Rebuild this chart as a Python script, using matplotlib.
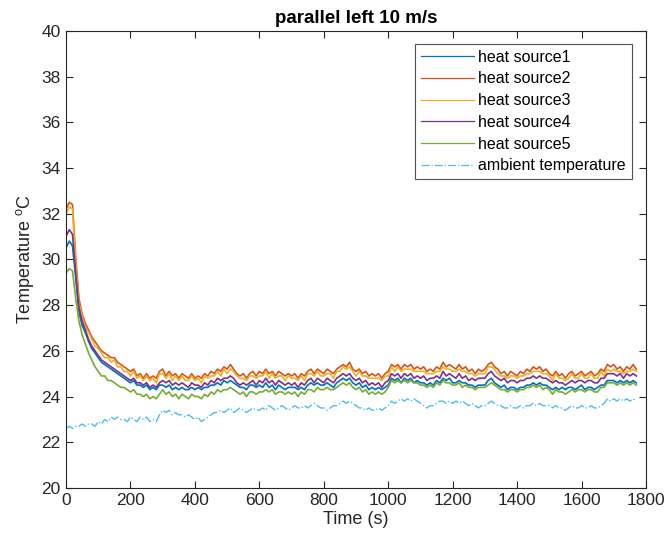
import numpy as np
import matplotlib
matplotlib.use("Agg")
import matplotlib.pyplot as plt

plt.rcParams['font.family'] = ['Liberation Sans', 'DejaVu Sans']
plt.rcParams['mathtext.fontset'] = 'custom'
plt.rcParams['mathtext.rm'] = 'Liberation Sans'
plt.rcParams['mathtext.it'] = 'Liberation Sans'

# time axis, one reading every 10 s
time_s = np.arange(0, 1780, 10)

heat_source1 = [
    30.5, 30.8, 30.6, 29.2, 27.7, 27.1, 26.8, 26.4, 26.1, 25.9,
    25.7, 25.5, 25.4, 25.3, 25.2, 25.1, 25.0, 24.9, 24.8, 24.7,
    24.6, 24.7, 24.5, 24.5, 24.4, 24.5, 24.3, 24.4, 24.3, 24.5,
    24.5, 24.4, 24.5, 24.3, 24.4, 24.3, 24.4, 24.3, 24.3, 24.4,
    24.3, 24.4, 24.3, 24.4, 24.4, 24.5, 24.5, 24.6, 24.5, 24.7,
    24.6, 24.7, 24.6, 24.5, 24.4, 24.4, 24.3, 24.5, 24.5, 24.4,
    24.5, 24.4, 24.6, 24.4, 24.5, 24.3, 24.5, 24.4, 24.3, 24.4,
    24.4, 24.4, 24.3, 24.4, 24.3, 24.5, 24.6, 24.5, 24.6, 24.5,
    24.5, 24.6, 24.5, 24.4, 24.6, 24.7, 24.8, 24.7, 24.8, 24.6,
    24.5, 24.6, 24.4, 24.5, 24.3, 24.4, 24.3, 24.4, 24.3, 24.4,
    24.5, 24.8, 24.7, 24.8, 24.6, 24.8, 24.7, 24.8, 24.6, 24.7,
    24.6, 24.6, 24.5, 24.6, 24.5, 24.7, 24.6, 24.8, 24.7, 24.8,
    24.6, 24.6, 24.7, 24.6, 24.6, 24.5, 24.5, 24.4, 24.5, 24.5,
    24.5, 24.7, 24.8, 24.6, 24.5, 24.4, 24.5, 24.3, 24.4, 24.4,
    24.3, 24.4, 24.4, 24.5, 24.5, 24.6, 24.5, 24.6, 24.5, 24.5,
    24.4, 24.3, 24.4, 24.3, 24.4, 24.3, 24.4, 24.4, 24.3, 24.4,
    24.5, 24.3, 24.4, 24.4, 24.3, 24.4, 24.5, 24.5, 24.7, 24.7,
    24.7, 24.6, 24.7, 24.6, 24.7, 24.6, 24.7, 24.6]

heat_source2 = [
    32.2, 32.5, 32.4, 30.1, 28.3, 27.6, 27.2, 26.9, 26.6, 26.4,
    26.2, 26.0, 25.9, 25.8, 25.7, 25.7, 25.5, 25.4, 25.3, 25.2,
    25.1, 25.2, 24.9, 25.0, 24.8, 25.0, 24.8, 24.9, 24.8, 25.1,
    25.2, 24.9, 25.1, 24.9, 25.0, 24.8, 25.0, 24.9, 24.8, 25.0,
    24.8, 24.9, 24.8, 25.0, 24.9, 25.1, 25.0, 25.2, 25.1, 25.3,
    25.2, 25.4, 25.2, 25.0, 24.9, 25.0, 24.8, 25.0, 25.1, 24.9,
    25.1, 25.0, 25.2, 25.0, 25.1, 24.9, 25.1, 25.0, 24.9, 25.0,
    24.9, 25.0, 24.8, 25.0, 24.9, 25.1, 25.2, 25.0, 25.2, 25.1,
    25.0, 25.2, 25.1, 25.0, 25.2, 25.3, 25.4, 25.3, 25.5, 25.2,
    25.1, 25.2, 25.0, 25.1, 24.9, 25.0, 24.9, 25.0, 24.8, 25.0,
    25.1, 25.4, 25.3, 25.4, 25.2, 25.4, 25.3, 25.4, 25.2, 25.3,
    25.2, 25.3, 25.1, 25.2, 25.1, 25.3, 25.2, 25.5, 25.3, 25.4,
    25.3, 25.2, 25.4, 25.2, 25.3, 25.1, 25.2, 25.0, 25.2, 25.1,
    25.2, 25.4, 25.5, 25.3, 25.2, 25.0, 25.1, 24.9, 25.1, 25.0,
    24.9, 25.1, 25.0, 25.2, 25.1, 25.3, 25.2, 25.3, 25.1, 25.2,
    25.0, 24.9, 25.1, 24.9, 25.0, 24.8, 25.0, 25.1, 24.9, 25.0,
    25.1, 24.9, 25.0, 25.1, 24.9, 25.0, 25.2, 25.1, 25.4, 25.3,
    25.4, 25.2, 25.3, 25.1, 25.3, 25.2, 25.4, 25.2]

heat_source3 = [
    32.0, 32.3, 32.2, 29.8, 28.1, 27.5, 27.0, 26.8, 26.5, 26.2,
    26.1, 25.9, 25.7, 25.7, 25.5, 25.6, 25.3, 25.3, 25.1, 25.1,
    24.9, 25.1, 24.8, 24.9, 24.7, 24.9, 24.7, 24.8, 24.6, 25.0,
    25.0, 24.8, 25.0, 24.7, 24.9, 24.7, 24.9, 24.7, 24.7, 24.9,
    24.7, 24.8, 24.6, 24.9, 24.8, 24.9, 24.9, 25.1, 24.9, 25.2,
    25.0, 25.2, 25.1, 24.9, 24.8, 24.8, 24.7, 24.9, 24.9, 24.8,
    24.9, 24.9, 25.1, 24.8, 25.0, 24.8, 24.9, 24.9, 24.7, 24.9,
    24.8, 24.8, 24.7, 24.9, 24.7, 25.0, 25.0, 24.9, 25.1, 24.9,
    24.9, 25.0, 25.0, 24.8, 25.1, 25.1, 25.3, 25.2, 25.3, 25.1,
    24.9, 25.1, 24.9, 24.9, 24.8, 24.8, 24.8, 24.8, 24.7, 24.9,
    24.9, 25.3, 25.1, 25.3, 25.1, 25.2, 25.2, 25.2, 25.1, 25.1,
    25.1, 25.1, 25.0, 25.0, 25.0, 25.1, 25.1, 25.3, 25.2, 25.2,
    25.1, 25.1, 25.2, 25.1, 25.1, 25.0, 25.0, 24.9, 25.0, 25.0,
    25.0, 25.3, 25.3, 25.2, 25.0, 24.9, 24.9, 24.8, 24.9, 24.9,
    24.8, 24.9, 24.9, 25.0, 25.0, 25.1, 25.1, 25.1, 25.0, 25.0,
    24.9, 24.7, 25.0, 24.8, 24.8, 24.7, 24.8, 25.0, 24.8, 24.8,
    25.0, 24.8, 24.8, 25.0, 24.8, 24.8, 25.1, 24.9, 25.2, 25.1,
    25.2, 25.1, 25.1, 25.0, 25.1, 25.1, 25.2, 25.1]

heat_source4 = [
    31.0, 31.3, 31.1, 29.4, 27.9, 27.3, 26.9, 26.5, 26.2, 26.0,
    25.8, 25.6, 25.5, 25.4, 25.3, 25.2, 25.1, 25.0, 24.9, 24.8,
    24.7, 24.8, 24.6, 24.6, 24.5, 24.6, 24.4, 24.5, 24.4, 24.6,
    24.7, 24.6, 24.7, 24.5, 24.6, 24.5, 24.6, 24.5, 24.4, 24.6,
    24.5, 24.5, 24.4, 24.6, 24.5, 24.7, 24.6, 24.8, 24.7, 24.8,
    24.8, 24.9, 24.8, 24.6, 24.5, 24.6, 24.5, 24.6, 24.7, 24.5,
    24.7, 24.6, 24.8, 24.6, 24.7, 24.5, 24.7, 24.6, 24.5, 24.6,
    24.5, 24.6, 24.4, 24.6, 24.5, 24.7, 24.8, 24.6, 24.8, 24.7,
    24.6, 24.8, 24.7, 24.6, 24.8, 24.9, 25.0, 24.9, 25.0, 24.8,
    24.7, 24.8, 24.6, 24.7, 24.5, 24.6, 24.5, 24.6, 24.4, 24.6,
    24.7, 25.0, 24.9, 25.0, 24.8, 25.0, 24.9, 25.0, 24.8, 24.9,
    24.8, 24.9, 24.7, 24.8, 24.8, 24.9, 24.8, 25.1, 24.9, 25.0,
    24.9, 24.8, 25.0, 24.8, 24.9, 24.7, 24.8, 24.7, 24.8, 24.8,
    24.8, 25.0, 25.1, 24.9, 24.8, 24.7, 24.8, 24.6, 24.7, 24.7,
    24.6, 24.7, 24.7, 24.8, 24.8, 24.9, 24.8, 24.9, 24.8, 24.8,
    24.7, 24.6, 24.7, 24.6, 24.6, 24.5, 24.6, 24.7, 24.6, 24.7,
    24.7, 24.6, 24.7, 24.7, 24.6, 24.6, 24.8, 24.8, 25.0, 25.0,
    25.0, 24.9, 25.0, 24.8, 25.0, 24.9, 25.0, 24.9]

heat_source5 = [
    29.4, 29.6, 29.5, 28.3, 27.3, 26.7, 26.3, 25.9, 25.6, 25.3,
    25.1, 24.9, 24.9, 24.7, 24.7, 24.6, 24.5, 24.4, 24.4, 24.3,
    24.2, 24.3, 24.1, 24.1, 24.0, 24.1, 23.9, 24.0, 23.9, 24.1,
    24.3, 24.1, 24.2, 24.0, 24.1, 23.9, 24.1, 24.0, 23.9, 24.1,
    24.0, 24.0, 23.9, 24.1, 24.0, 24.2, 24.1, 24.3, 24.2, 24.3,
    24.3, 24.4, 24.3, 24.2, 24.1, 24.2, 24.0, 24.2, 24.2, 24.1,
    24.2, 24.2, 24.3, 24.2, 24.3, 24.1, 24.2, 24.2, 24.1, 24.2,
    24.1, 24.2, 24.0, 24.2, 24.1, 24.3, 24.3, 24.2, 24.4, 24.3,
    24.3, 24.4, 24.3, 24.3, 24.4, 24.5, 24.6, 24.5, 24.6, 24.4,
    24.3, 24.4, 24.2, 24.3, 24.1, 24.2, 24.1, 24.2, 24.1, 24.2,
    24.4, 24.7, 24.6, 24.7, 24.6, 24.7, 24.6, 24.7, 24.6, 24.6,
    24.5, 24.5, 24.4, 24.5, 24.4, 24.6, 24.5, 24.7, 24.6, 24.6,
    24.5, 24.5, 24.6, 24.4, 24.5, 24.4, 24.4, 24.3, 24.4, 24.4,
    24.4, 24.5, 24.6, 24.5, 24.4, 24.3, 24.3, 24.2, 24.3, 24.3,
    24.2, 24.3, 24.3, 24.4, 24.4, 24.5, 24.4, 24.5, 24.3, 24.4,
    24.3, 24.1, 24.3, 24.2, 24.2, 24.1, 24.2, 24.3, 24.2, 24.3,
    24.3, 24.2, 24.3, 24.3, 24.2, 24.2, 24.4, 24.4, 24.6, 24.6,
    24.6, 24.5, 24.6, 24.5, 24.6, 24.5, 24.6, 24.5]

ambient = [
    22.6, 22.7, 22.6, 22.7, 22.7, 22.8, 22.7, 22.8, 22.8, 22.7,
    22.9, 22.8, 23.0, 22.9, 23.1, 23.0, 23.1, 23.0, 23.0, 22.9,
    23.1, 23.0, 22.9, 23.1, 23.0, 23.1, 22.9, 23.0, 22.9, 23.2,
    23.4, 23.3, 23.4, 23.2, 23.3, 23.2, 23.2, 23.1, 23.2, 23.1,
    23.0, 23.1, 22.9, 23.0, 23.1, 23.2, 23.3, 23.3, 23.4, 23.3,
    23.4, 23.5, 23.3, 23.4, 23.5, 23.4, 23.3, 23.4, 23.5, 23.4,
    23.4, 23.5, 23.4, 23.6, 23.5, 23.4, 23.5, 23.6, 23.5, 23.4,
    23.5, 23.6, 23.5, 23.5, 23.6, 23.5, 23.6, 23.7, 23.6, 23.5,
    23.5, 23.4, 23.5, 23.6, 23.6, 23.7, 23.8, 23.7, 23.8, 23.7,
    23.6, 23.5, 23.5, 23.4, 23.5, 23.4, 23.4, 23.5, 23.4, 23.5,
    23.6, 23.8, 23.7, 23.8, 23.9, 23.8, 23.9, 23.8, 23.9, 23.8,
    23.7, 23.6, 23.5, 23.6, 23.6, 23.7, 23.8, 23.8, 23.7, 23.8,
    23.7, 23.8, 23.7, 23.8, 23.7, 23.6, 23.7, 23.6, 23.5, 23.6,
    23.6, 23.7, 23.8, 23.7, 23.6, 23.6, 23.5, 23.5, 23.6, 23.5,
    23.5, 23.6, 23.5, 23.6, 23.6, 23.7, 23.6, 23.7, 23.6, 23.6,
    23.6, 23.5, 23.6, 23.5, 23.5, 23.4, 23.5, 23.6, 23.5, 23.5,
    23.6, 23.5, 23.5, 23.6, 23.5, 23.5, 23.6, 23.7, 23.9, 23.8,
    23.9, 23.8, 23.9, 23.8, 23.9, 23.8, 23.9, 23.8]

series = [heat_source1, heat_source2, heat_source3, heat_source4, heat_source5]
labels = ['heat source1', 'heat source2', 'heat source3', 'heat source4', 'heat source5']
colors = ['#0072BD', '#D95319', '#EDB120', '#7E2F8E', '#77AC30']

fig = plt.figure(figsize=(6.67, 5.47), dpi=100)
ax = fig.add_axes([0.099, 0.108, 0.8695, 0.8355])

for vals, lab, col in zip(series, labels, colors):
    ax.plot(time_s, vals, color=col, lw=1.2, label=lab)
ax.plot(time_s, ambient, color='#4DBEEE', lw=1.0, ls='-.', label='ambient temperature')

ax.set_xlim(0, 1800)
ax.set_ylim(20, 40)
ax.set_xticks(np.arange(0, 1801, 200))
ax.set_yticks(np.arange(20, 41, 2))
ax.tick_params(direction='in', top=True, right=True, length=5, width=0.8,
               labelsize=12.5, colors='#262626', pad=4)
for sp in ax.spines.values():
    sp.set_color('#262626')
    sp.set_linewidth(0.8)

ax.set_xlabel('Time (s)', fontsize=13, color='#262626', labelpad=2)
ax.set_ylabel('Temperature $^{\\mathrm{o}}$C', fontsize=13, color='#262626', labelpad=4)
ax.set_title('parallel left 10 m/s', fontsize=13.5, fontweight='bold', color='black', pad=6)

leg = ax.legend(loc='upper right', bbox_to_anchor=(0.976, 0.972), borderaxespad=0,
                fontsize=11.5, frameon=True, fancybox=False, handlelength=3.3,
                handletextpad=0.3, labelspacing=0.42, borderpad=0.38)
for line in leg.get_lines():
    line.set_linewidth(0.9)
leg.get_frame().set_edgecolor('#262626')
leg.get_frame().set_linewidth(0.8)

fig.savefig('out.png', dpi=100)
